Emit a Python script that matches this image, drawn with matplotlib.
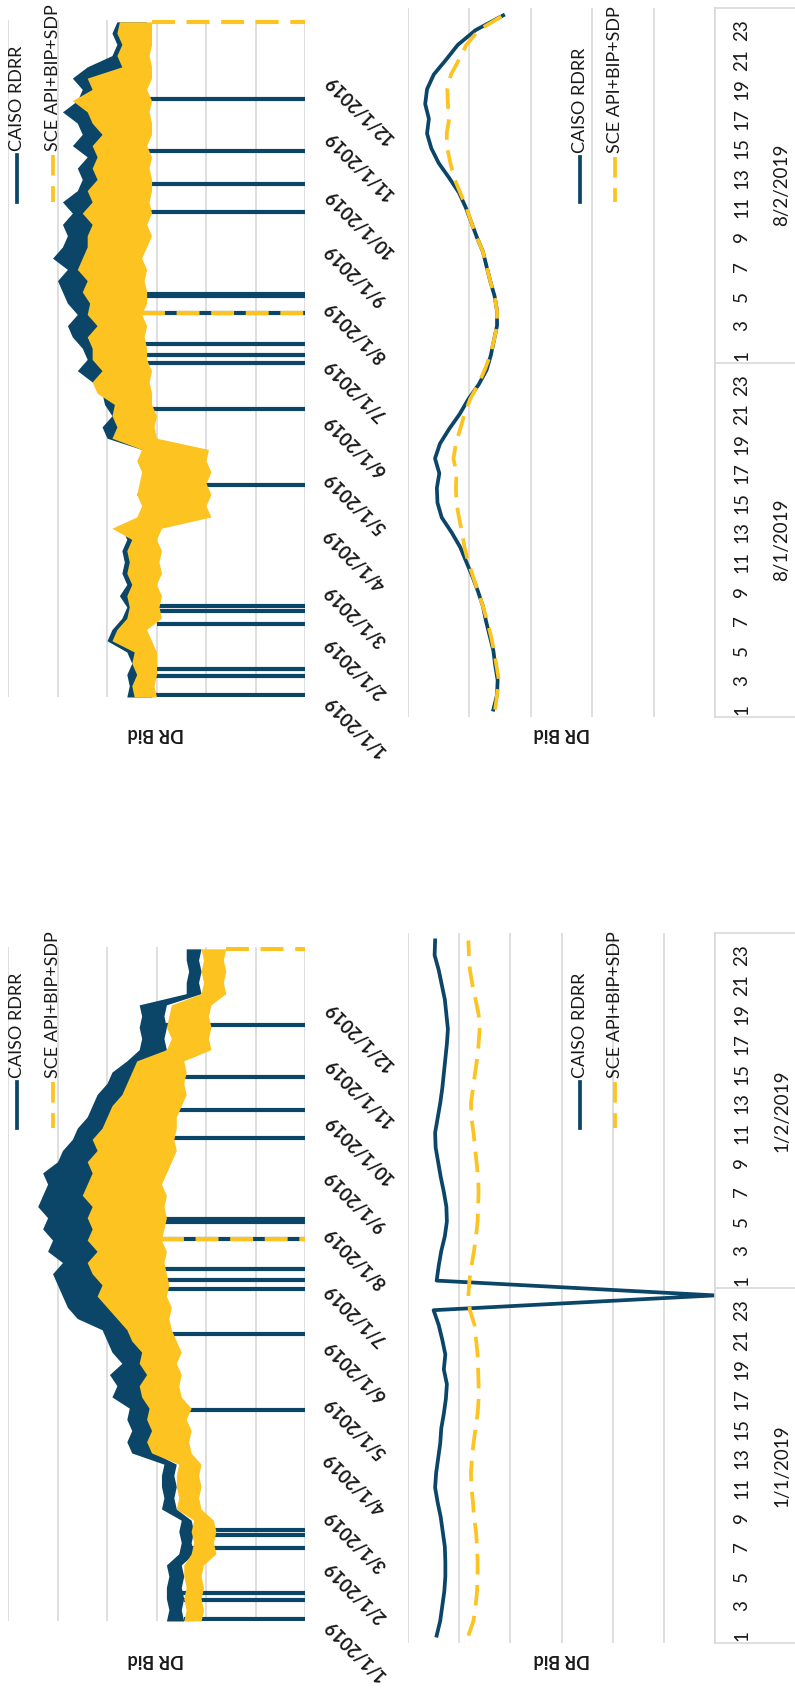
import numpy as np
import matplotlib
matplotlib.use('Agg')
import matplotlib.pyplot as plt
from matplotlib.lines import Line2D
from matplotlib.transforms import blended_transform_factory

W, H = 795, 1688
plt.rcParams['font.family'] = ['Lato', 'DejaVu Sans']

BLUE = '#0b4668'
GOLD = '#fcc321'
GRID = '#d9d9d9'
SCE_DASH = (5.5, 2.8)

# ---------------- data ----------------
# yearly charts: daily low / high of the hourly bids, one pair about every 6 days
year_days = np.linspace(0, 364, 61)
month_days = [0, 31, 59, 90, 120, 151, 181, 212, 243, 273, 304, 334]
month_labels = ['%d/1/2019' % m for m in range(1, 13)]

# days on which the bids drop to zero
caiso_zero_days = [1, 11.5, 15.3, 39.5, 46.5, 49.3, 114.5, 155.5, 180, 184.5,
                   190.5, 207, 216, 217.5, 261.5, 276.5, 294.5, 322.5]
sce_zero_days = [207, 364]

# upper left chart (goes with the August days)
caiso_a_hi = [3.6, 3.55, 3.6, 3.5, 3.6, 4.0, 3.9,
              3.7, 3.6, 3.75, 3.6, 3.7, 3.65, 3.7, 3.6, 3.7,
              3.3, 3.2, 3.4, 3.3, 3.2, 3.35, 3.3,
              4.0, 4.1, 3.9, 4.05, 4.1, 4.3, 4.6, 4.4,
              4.5, 4.7, 4.8, 4.6, 4.8, 4.9, 5.0, 4.8, 5.1, 4.9,
              4.8, 4.9, 4.7, 4.9, 4.6, 4.5, 4.6, 4.4, 4.7, 4.5,
              4.6, 4.9, 4.6, 4.5, 4.7, 4.4, 3.9, 3.8, 3.9, 3.8]
caiso_a_lo = [3.1, 3.2, 3.1, 3.15, 3.1, 3.2, 3.3,
              3.0, 3.05, 3.0, 3.1, 3.0, 3.05, 3.0, 3.1, 3.1,
              2.0, 2.1, 2.0, 2.1, 2.0, 2.05, 2.1,
              3.1, 3.2, 3.1, 3.15, 3.2, 3.3, 3.2, 3.3,
              3.3, 3.4, 3.3, 3.4, 3.3, 3.4, 3.5, 3.4, 3.5, 3.4,
              3.4, 3.5, 3.3, 3.4, 3.4, 3.3, 3.4, 3.3, 3.3, 3.4,
              3.3, 3.4, 3.3, 3.4, 3.3, 3.2, 3.25, 3.2, 3.3, 3.2]
sce_a_hi = [3.45, 3.5, 3.4, 3.5, 3.45, 3.9, 3.8,
            3.6, 3.55, 3.6, 3.5, 3.6, 3.55, 3.6, 3.5, 3.9,
            3.4, 3.3, 3.4, 3.35, 3.3, 3.4, 3.3,
            3.9, 3.8, 3.9, 3.85, 4.2, 4.3, 4.1, 4.3,
            4.3, 4.4, 4.2, 4.4, 4.35, 4.5, 4.4, 4.6, 4.5, 4.4,
            4.4, 4.3, 4.5, 4.3, 4.4, 4.2, 4.3, 4.2, 4.3, 4.1,
            4.3, 4.4, 4.7, 4.3, 4.4, 3.7, 3.8, 3.7, 3.8, 3.75]
sce_a_lo = [3.0, 3.05, 3.0, 3.0, 3.0, 3.1, 3.2,
            2.9, 2.95, 2.9, 3.0, 2.9, 2.95, 2.9, 3.0, 2.9,
            1.9, 2.0, 1.9, 2.0, 1.9, 2.0, 1.95,
            3.0, 3.05, 3.0, 3.1, 3.1, 3.15, 3.1, 3.2,
            3.2, 3.25, 3.2, 3.3, 3.2, 3.2, 3.25, 3.2, 3.3, 3.2,
            3.1, 3.2, 3.1, 3.15, 3.1, 3.1, 3.15, 3.1, 3.2, 3.1,
            3.1, 3.15, 3.1, 3.2, 3.1, 3.1, 3.15, 3.1, 3.1, 3.1]

# lower left chart (goes with the January days)
caiso_b_hi = [2.8, 2.75, 2.8, 2.8, 2.75, 2.8, 2.55, 2.5, 2.55, 2.5,
              2.9, 2.85, 2.9, 2.9, 2.85, 3.5, 3.6, 3.5, 3.6, 3.55,
              3.9, 3.8, 3.95, 3.7, 3.9, 4.0, 4.1, 4.6, 4.8, 4.9, 5.0,
              5.1, 4.9, 5.2, 5.1, 5.3, 5.2, 5.4, 5.3, 5.2, 5.3,
              5.0, 4.9, 4.7, 4.6, 4.4, 4.3, 4.2, 4.0, 3.9, 3.6,
              3.35, 3.3, 3.35, 3.3, 3.35, 2.4, 2.4, 2.35, 2.4, 2.4]
caiso_b_lo = [2.45, 2.5, 2.45, 2.5, 2.45, 2.5, 2.25, 2.3, 2.25, 2.3,
              2.6, 2.65, 2.6, 2.65, 2.6, 3.05, 3.0, 3.1, 3.0, 3.1,
              3.1, 3.0, 3.1, 3.05, 3.1, 3.2, 3.3, 3.2, 3.4, 3.5, 3.6,
              3.6, 3.7, 3.6, 3.7, 3.8, 3.8, 3.9, 3.8, 3.9, 3.8,
              3.6, 3.5, 3.4, 3.5, 3.4, 3.1, 3.0, 3.1, 3.0, 3.1,
              2.8, 2.85, 2.8, 2.85, 2.8, 2.1, 2.15, 2.1, 2.15, 2.1]
sce_b_hi = [2.45, 2.4, 2.45, 2.4, 2.45, 2.45, 2.3, 2.25, 2.3, 2.25,
            2.6, 2.55, 2.6, 2.6, 2.55, 3.1, 3.2, 3.1, 3.2, 3.15,
            3.3, 3.35, 3.2, 3.35, 3.3, 3.5, 3.6, 3.8, 4.0, 4.2, 4.1,
            4.3, 4.4, 4.2, 4.4, 4.3, 4.4, 4.3, 4.5, 4.4, 4.3,
            4.4, 4.2, 4.3, 4.1, 4.0, 3.9, 3.7, 3.6, 3.5, 3.4,
            2.8, 2.7, 2.8, 2.75, 2.7, 2.1, 2.05, 2.1, 2.05, 2.1]
sce_b_lo = [2.1, 2.05, 2.1, 2.05, 2.1, 2.05, 1.8, 1.85, 1.8, 1.85,
            2.1, 2.15, 2.1, 2.15, 2.1, 2.3, 2.35, 2.3, 2.4, 2.3,
            2.5, 2.55, 2.5, 2.6, 2.5, 2.6, 2.7, 2.75, 2.7, 2.8, 2.75,
            2.8, 2.85, 2.8, 2.9, 2.85, 2.8, 2.85, 2.8, 2.9, 2.8,
            2.7, 2.6, 2.65, 2.6, 2.6, 2.5, 2.4, 2.45, 2.4, 2.45,
            1.9, 1.95, 1.9, 1.95, 1.9, 1.6, 1.65, 1.6, 1.65, 1.6]

# hourly charts (48 hours each)
hour_labels = [str(h) for h in range(1, 24, 2)] * 2

caiso_aug = [3.61, 3.55, 3.54, 3.58, 3.61, 3.67, 3.73, 3.78, 3.86, 3.95, 4.05, 4.15,
             4.29, 4.45, 4.52, 4.53, 4.49, 4.56, 4.48, 4.33, 4.16, 4.02, 3.85, 3.72,
             3.65, 3.60, 3.55, 3.55, 3.59, 3.66, 3.72, 3.78, 3.88, 3.97, 4.06, 4.17,
             4.33, 4.50, 4.62, 4.69, 4.66, 4.72, 4.69, 4.58, 4.38, 4.19, 3.90, 3.45]
sce_aug = [3.58, 3.55, 3.52, 3.56, 3.60, 3.65, 3.71, 3.78, 3.86, 3.94, 4.02, 4.08,
           4.12, 4.17, 4.21, 4.22, 4.21, 4.26, 4.22, 4.15, 4.08, 3.99, 3.86, 3.75,
           3.66, 3.60, 3.55, 3.55, 3.59, 3.66, 3.72, 3.78, 3.88, 3.97, 4.05, 4.15,
           4.25, 4.31, 4.36, 4.37, 4.33, 4.35, 4.36, 4.30, 4.17, 4.05, 3.85, 3.45]
caiso_jan = [5.44, 5.37, 5.33, 5.29, 5.27, 5.27, 5.28, 5.32, 5.36, 5.42, 5.47, 5.45,
             5.41, 5.37, 5.35, 5.30, 5.26, 5.24, 5.30, 5.27, 5.33, 5.40, 5.50, 0.0,
             5.44, 5.40, 5.35, 5.28, 5.24, 5.25, 5.30, 5.36, 5.41, 5.46, 5.47, 5.42,
             5.37, 5.33, 5.30, 5.27, 5.24, 5.22, 5.25, 5.28, 5.34, 5.40, 5.48, 5.47]
sce_jan = [4.82, 4.72, 4.68, 4.65, 4.64, 4.64, 4.65, 4.67, 4.71, 4.73, 4.76, 4.77,
           4.75, 4.72, 4.68, 4.64, 4.62, 4.62, 4.63, 4.64, 4.67, 4.70, 4.79, 4.82,
           4.80, 4.76, 4.71, 4.67, 4.64, 4.63, 4.62, 4.63, 4.66, 4.69, 4.72, 4.76,
           4.77, 4.73, 4.69, 4.65, 4.62, 4.60, 4.62, 4.68, 4.74, 4.79, 4.81, 4.82]


def fx(x):
    return x / W


def fy(y):
    return 1 - y / H


def legend_at(x1, x2, ytop, ybot):
    fig.add_artist(Line2D([fx(x1), fx(x1)], [fy(ytop), fy(ybot)], color=BLUE, lw=2.7))
    fig.add_artist(Line2D([fx(x2), fx(x2)], [fy(ytop), fy(ybot)], color=GOLD, lw=2.7,
                          dashes=SCE_DASH))
    fig.text(fx(x1), fy(ytop - 4), 'CAISO RDRR', rotation=90, ha='center', va='bottom',
             fontsize=13, color='#1a1a1a')
    fig.text(fx(x2), fy(ytop - 4), 'SCE API+BIP+SDP', rotation=90, ha='center', va='bottom',
             fontsize=13, color='#1a1a1a')


def band(ax, lo, hi, zero_days, color, z, **kw):
    # the hourly line is so dense that it shows as a band between daily low and high
    ax.fill_betweenx(year_days, lo, hi, color=color, lw=0, zorder=z)
    for d in zero_days:
        i = int(np.argmin(np.abs(year_days - d)))
        ax.plot([lo[i], 0], [d, d], color=color, lw=3.0, solid_capstyle='butt',
                zorder=z + 0.1, **kw)


def year_panel(rect, caiso_lo, caiso_hi, sce_lo, sce_hi):
    ax = fig.add_axes(rect)
    band(ax, caiso_lo, caiso_hi, caiso_zero_days, BLUE, 2)
    band(ax, sce_lo, sce_hi, sce_zero_days, GOLD, 3, dashes=SCE_DASH)
    ax.set_xlim(6, 0)
    ax.set_ylim(0, 365)
    ax.set_xticks(range(7))
    ax.grid(axis='x', color=GRID, lw=1.2)
    ax.set_axisbelow(True)
    ax.tick_params(axis='x', length=0, labelbottom=False)
    for s in ax.spines.values():
        s.set_visible(False)
    ax.yaxis.tick_right()
    ax.set_yticks(month_days, month_labels)
    ax.tick_params(axis='y', length=0, pad=16)
    for lab in ax.get_yticklabels():
        lab.set_rotation(135)
        lab.set_rotation_mode('anchor')
        lab.set_ha('right')
        lab.set_va('center')
        lab.set_fontweight('bold')
        lab.set_fontsize(13)
        lab.set_color('#1a1a1a')
    return ax


def hour_panel(rect, caiso, sce, vmax, days):
    ax = fig.add_axes(rect)
    idx = np.arange(48)
    ax.plot(caiso, idx, color=BLUE, lw=2.7)
    ax.plot(sce, idx, color=GOLD, lw=2.7, dashes=SCE_DASH)
    ax.set_xlim(vmax, 0)
    ax.set_ylim(-0.5, 47.5)
    ax.set_xticks(range(vmax + 1))
    ax.grid(axis='x', color=GRID, lw=1.2)
    ax.set_axisbelow(True)
    ax.tick_params(axis='x', length=0, labelbottom=False)
    for name, s in ax.spines.items():
        s.set_visible(name == 'right')
    ax.spines['right'].set_color(GRID)
    ax.spines['right'].set_linewidth(1.2)
    ax.yaxis.tick_right()
    ax.set_yticks(idx[::2], hour_labels)
    ax.tick_params(axis='y', length=0, pad=13, labelsize=13.5, labelcolor='#1a1a1a')
    for lab in ax.get_yticklabels():
        lab.set_rotation(90)
        lab.set_va('center')
    tr = blended_transform_factory(ax.transAxes, ax.transData)
    for yb in [-0.5, 23.5, 47.5]:
        ax.add_line(Line2D([1, 1.3], [yb, yb], transform=tr, clip_on=False,
                           color=GRID, lw=1.2))
    for k, d in enumerate(days):
        ax.text(1.218, 11.5 + 24 * k, d, transform=tr, rotation=90, ha='center',
                va='center', fontsize=13.5, color='#1a1a1a')
    return ax


fig = plt.figure(figsize=(W / 100, H / 100), dpi=100)

year_panel([fx(8), fy(697), 297 / W, 677 / H], caiso_a_lo, caiso_a_hi, sce_a_lo, sce_a_hi)
year_panel([fx(8), fy(1621), 297 / W, 674 / H], caiso_b_lo, caiso_b_hi, sce_b_lo, sce_b_hi)
hour_panel([fx(408), fy(717), 307 / W, 709 / H], caiso_aug, sce_aug, 5, ['8/1/2019', '8/2/2019'])
hour_panel([fx(408), fy(1643), 307 / W, 710 / H], caiso_jan, sce_jan, 6, ['1/1/2019', '1/2/2019'])

for x, y in [(156, 733), (156, 1659), (562, 733), (562, 1659)]:
    fig.text(fx(x), fy(y), 'DR Bid', rotation=180, ha='center', va='center',
             fontsize=13, fontweight='bold', color='#1a1a1a')

legend_at(17, 53, 155, 202)
legend_at(17, 53, 1082, 1128)
legend_at(580, 615, 157, 202)
legend_at(580, 615, 1082, 1128)

fig.savefig('out.png', dpi=100)
